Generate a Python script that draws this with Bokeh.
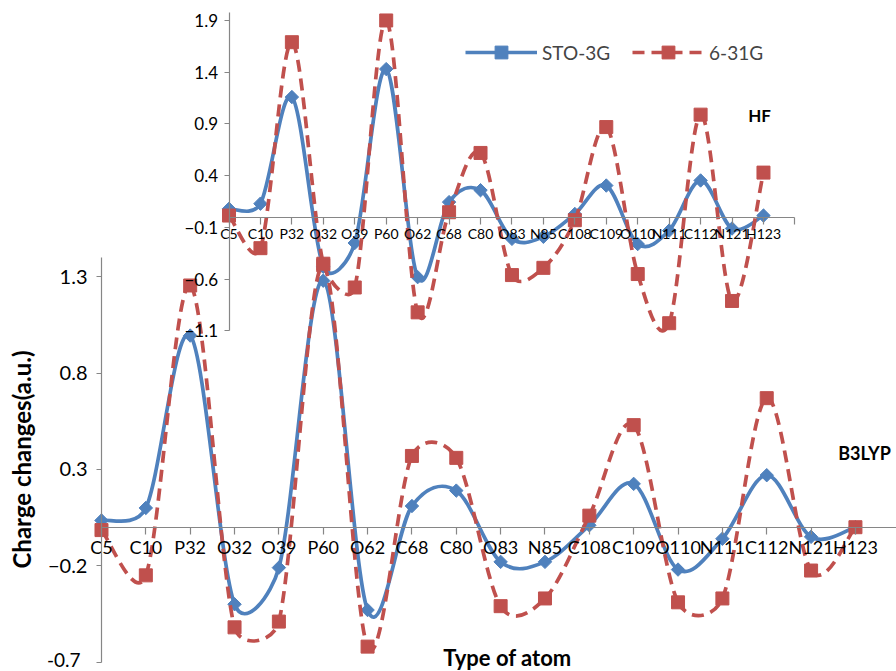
import math
from bokeh.plotting import figure
from bokeh.models import (Range1d, LinearAxis, FixedTicker, Label, Legend,
                          LegendItem, ColumnDataSource)
from bokeh.embed import file_html
from bokeh.resources import INLINE

# ---------------- data ----------------
atoms = ["C5", "C10", "P32", "O32", "O39", "P60", "O62", "C68", "C80", "O83",
         "N85", "C108", "C109", "O110", "N111", "C112", "N121", "H123"]

b3lyp_sto3g = [0.035, 0.10, 0.995, -0.40, -0.21, 1.28, -0.43, 0.11, 0.19, -0.18,
               -0.18, 0.01, 0.225, -0.22, -0.06, 0.27, -0.05, 0.0]
b3lyp_631g = [-0.015, -0.25, 1.255, -0.52, -0.49, 1.36, -0.62, 0.37, 0.36, -0.41,
              -0.37, 0.06, 0.53, -0.39, -0.37, 0.67, -0.225, 0.0]
hf_sto3g = [0.08, 0.13, 1.16, -0.48, -0.25, 1.43, -0.58, 0.145, 0.26, -0.21,
            -0.19, 0.03, 0.305, -0.26, -0.13, 0.354, -0.11, 0.015]
hf_631g = [0.015, -0.30, 1.69, -0.45, -0.68, 1.90, -0.92, 0.047, 0.62, -0.56,
           -0.49, -0.03, 0.87, -0.55, -1.025, 0.99, -0.81, 0.43]

b3lyp_y_ticks = [-0.7, -0.2, 0.3, 0.8, 1.3]
hf_y_ticks = [-1.1, -0.6, -0.1, 0.4, 0.9, 1.4, 1.9]

series_names = ["STO-3G", "6-31G"]

# ---------------- styling ----------------
BLUE = "#4F81BD"
RED = "#C0504D"
AXIS = "#868686"
FONT = "Lato"
W, H = 896, 671

main_xr = Range1d(-2.277, 17.926)
main_yr = Range1d(-0.7492, 2.7347)
hf_xr = Range1d(-7.268, 21.231)
hf_yr = Range1d(-4.390, 2.0928)

p = figure(width=W, height=H, output_backend="svg", toolbar_location=None,
           x_range=main_xr, y_range=main_yr,
           x_axis_location=None, y_axis_location=None,
           min_border=0, outline_line_color=None,
           background_fill_color="white", border_fill_color="white")
p.xgrid.visible = False
p.ygrid.visible = False
p.extra_x_ranges = {"hfx": hf_xr}
p.extra_y_ranges = {"hfy": hf_yr}

idx = list(range(len(atoms)))
overrides = {i: a for i, a in enumerate(atoms)}
hf_overrides = dict(overrides)
hf_overrides[len(atoms)] = ""


def style(ax, size, tick_out=6, standoff=4):
    ax.axis_line_color = AXIS
    ax.axis_line_width = 1.2
    ax.major_tick_line_color = AXIS
    ax.major_tick_line_width = 1.2
    ax.minor_tick_line_color = None
    ax.major_tick_in = 0
    ax.major_tick_out = tick_out
    ax.major_label_text_font = FONT
    ax.major_label_text_font_size = f"{size}px"
    ax.major_label_text_color = "black"
    ax.major_label_standoff = standoff
    ax.major_label_text_line_height = 0.9


# main (B3LYP) axes; the lowest tick label sits on the page edge, so it is
# drawn as a separate label nudged inside the picture
bottom_tick = b3lyp_y_ticks[0]
my = LinearAxis(fixed_location=0, ticker=FixedTicker(ticks=b3lyp_y_ticks),
                bounds=(-0.7, 1.4), major_label_overrides={bottom_tick: ""})
style(my, 20, 5, 9)
p.add_layout(my, "left")
p.add_layout(Label(x=80, y=5, x_units="screen", y_units="screen",
                   text=f"{bottom_tick:.1f}", text_align="right",
                   text_baseline="bottom", text_font=FONT,
                   text_font_size="19px", text_color="black"))

mx = LinearAxis(fixed_location=0, ticker=FixedTicker(ticks=idx),
                major_label_overrides=overrides, bounds=(0, 18))
style(mx, 18, 7, 2)
p.add_layout(mx, "below")

# HF axes
hy = LinearAxis(x_range_name="hfx", y_range_name="hfy", fixed_location=0,
                ticker=FixedTicker(ticks=hf_y_ticks), bounds=(-1.1, 1.98))
style(hy, 17, 5, 6)
p.add_layout(hy, "left")

hx = LinearAxis(x_range_name="hfx", y_range_name="hfy", fixed_location=0,
                ticker=FixedTicker(ticks=idx + [len(atoms)]),
                major_label_overrides=hf_overrides, bounds=(0, len(atoms)))
style(hx, 14, 7, 1)
p.add_layout(hx, "below")


def bezier_segments(xs, ys, xr, yr):
    """Excel-like smoothing: Catmull-Rom arms (1/6) computed in pixel space,
    limited to half of the adjoining segment length."""
    kx = W / (xr.end - xr.start)
    ky = H / (yr.end - yr.start)
    px = [x * kx for x in xs]
    py = [y * ky for y in ys]
    n = len(xs)
    arms_out, arms_in = [], []
    for i in range(n):
        i0 = max(i - 1, 0)
        i2 = min(i + 1, n - 1)
        vx, vy = px[i2] - px[i0], py[i2] - py[i0]
        vlen = math.hypot(vx, vy) or 1.0
        d_in = math.hypot(px[i] - px[i0], py[i] - py[i0])
        d_out = math.hypot(px[i2] - px[i], py[i2] - py[i])
        f_in = min(1 / 6, 0.5 * d_in / vlen)
        f_out = min(1 / 6, 0.5 * d_out / vlen)
        arms_in.append((vx * f_in, vy * f_in))
        arms_out.append((vx * f_out, vy * f_out))
    d = {k: [] for k in ["x0", "y0", "x1", "y1", "cx0", "cy0", "cx1", "cy1"]}
    for i in range(n - 1):
        d["x0"].append(xs[i]); d["y0"].append(ys[i])
        d["x1"].append(xs[i + 1]); d["y1"].append(ys[i + 1])
        d["cx0"].append((px[i] + arms_out[i][0]) / kx)
        d["cy0"].append((py[i] + arms_out[i][1]) / ky)
        d["cx1"].append((px[i + 1] - arms_in[i + 1][0]) / kx)
        d["cy1"].append((py[i + 1] - arms_in[i + 1][1]) / ky)
    return ColumnDataSource(d)


def add_series(ys, color, dash, marker, size, angle, hf=False):
    kw = dict(x_range_name="hfx", y_range_name="hfy") if hf else {}
    xr, yr = (hf_xr, hf_yr) if hf else (main_xr, main_yr)
    line = p.bezier(x0="x0", y0="y0", x1="x1", y1="y1", cx0="cx0", cy0="cy0",
                    cx1="cx1", cy1="cy1", source=bezier_segments(idx, ys, xr, yr),
                    line_color=color, line_width=3.7, line_dash=dash, **kw)
    mark = p.scatter(x=idx, y=ys, marker=marker, size=size, angle=angle,
                     fill_color=color, line_color=color, **kw)
    return line, mark


add_series(b3lyp_sto3g, BLUE, "solid", "square", 9.5, math.pi / 4)
add_series(b3lyp_631g, RED, "12 7", "square", 13, 0)
hb = add_series(hf_sto3g, BLUE, "solid", "square", 9.5, math.pi / 4, hf=True)
hr = add_series(hf_631g, RED, "12 7", "square", 13, 0, hf=True)

legend = Legend(items=[LegendItem(label=series_names[0], renderers=list(hb)),
                       LegendItem(label=series_names[1], renderers=list(hr))],
                orientation="horizontal", location=(465, 603),
                glyph_width=72, glyph_height=32, label_standoff=5, spacing=22,
                padding=0, margin=0, border_line_alpha=0,
                background_fill_alpha=0, label_text_font=FONT,
                label_text_font_size="19px")
p.add_layout(legend)

# titles / annotations (screen units: frame == canvas)
p.add_layout(Label(x=21, y=212, x_units="screen", y_units="screen",
                   text="Charge changes(a.u.)", angle=math.pi / 2,
                   text_align="center", text_baseline="middle",
                   text_font=FONT, text_font_style="bold",
                   text_font_size="24px", text_color="black"))
p.add_layout(Label(x=507, y=1, x_units="screen", y_units="screen",
                   text="Type of atom", text_align="center",
                   text_baseline="bottom", text_font=FONT,
                   text_font_style="bold", text_font_size="22px",
                   text_color="black"))
p.add_layout(Label(x=864, y=219, x_units="screen", y_units="screen",
                   text="B3LYP", text_align="center", text_baseline="middle",
                   text_font=FONT, text_font_style="bold",
                   text_font_size="18px", text_color="black"))
p.add_layout(Label(x=759, y=556, x_units="screen", y_units="screen",
                   text="HF", text_align="center", text_baseline="middle",
                   text_font=FONT, text_font_style="bold",
                   text_font_size="17px", text_color="black"))

open("out.html", "w").write(file_html(p, INLINE))
